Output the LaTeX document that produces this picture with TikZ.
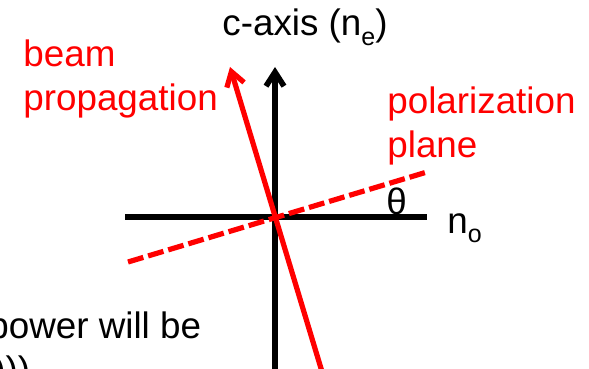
\documentclass[tikz,border=0pt]{standalone}
\usepackage{fontspec}
\setmainfont{Liberation Sans}
\usetikzlibrary{arrows.meta}
\newcommand{\lowidx}[1]{\raisebox{-0.25em}{\fontsize{12.5}{12.5}\selectfont #1}}

\begin{document}
\begin{tikzpicture}[
    x=0.5pt, y=-0.5pt,
    axis_style/.style={line width=2.8pt, black},
    beam_style/.style={line width=2.6pt, red},
    plane_style/.style={line width=2.6pt, red, dash pattern=on 8pt off 2.5pt},
    open_tip/.style={-{Straight Barb[length=7pt, width=9pt]}},
    label_style/.style={inner sep=0pt, anchor=base west, align=left,
        font=\fontsize{18.4}{22}\selectfont}
]
\useasboundingbox (0,0) rectangle (589,369);
\clip (0,0) rectangle (589,369);
% crystal axes
\coordinate (o) at (275,217);
\coordinate (ctop) at (275,67);
\coordinate (cbot) at (275,375);
\coordinate (nleft) at (125,217);
\coordinate (nright) at (427,217);
\draw[axis_style, open_tip] (cbot) -- (ctop);
\draw[axis_style] (nleft) -- (nright);
% beam and polarization plane
\coordinate (btip) at (230,67);
\coordinate (btail) at (323,375);
\coordinate (pleft) at (128,262);
\coordinate (pright) at (427,172);
\draw[beam_style, open_tip] (btail) -- (btip);
\draw[plane_style] (pleft) -- (pright);
% labels (base = last line)
\node[label_style] (caxis) at (222,36) {c-axis (n\lowidx{e})};
\node[label_style] (nolabel) at (447,233) {n\lowidx{o}};
\node[label_style] (theta) at (386,214) {θ};
\node[label_style, text=red] (beam) at (23,111) {beam\\propagation};
\node[label_style, text=red] (plane) at (387,157) {polarization\\plane};
\node[label_style] (power) at (-12,382) {power will be\\\hspace{2.5pt})))};
\end{tikzpicture}
\end{document}
